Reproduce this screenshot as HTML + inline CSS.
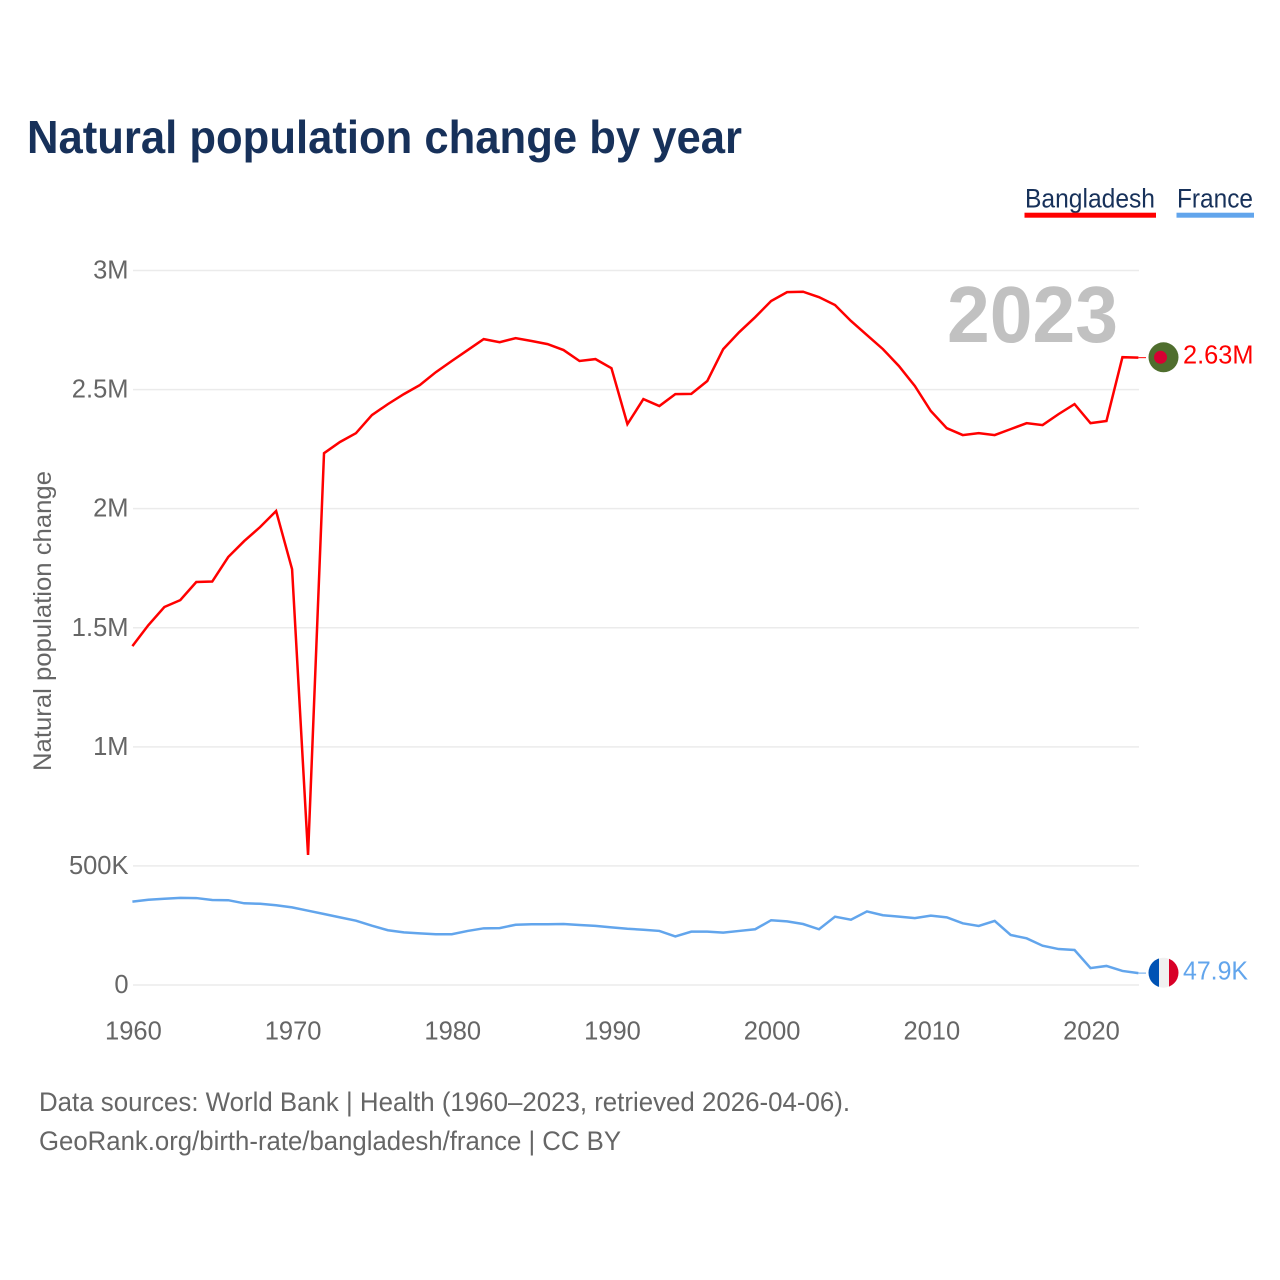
<!DOCTYPE html>
<html lang="en">
<head>
<meta charset="utf-8">
<title>Natural population change by year</title>
<style>
html,body{margin:0;padding:0;background:#fff;}
svg{display:block;font-family:"Liberation Sans",sans-serif;}
</style>
</head>
<body>
<svg id="chart" xmlns="http://www.w3.org/2000/svg" width="1280" height="1280" viewBox="0 0 1280 1280">
  <defs>
    <clipPath id="bd-clip"><circle cx="1163.5" cy="357.3" r="15"/></clipPath>
    <clipPath id="fr-clip"><circle cx="1163.5" cy="972.7" r="15"/></clipPath>
  </defs>
  <rect width="1280" height="1280" fill="#fff"/>
  <text x="27" y="153" font-size="46" font-weight="700" fill="#17315a" textLength="715" lengthAdjust="spacingAndGlyphs">Natural population change by year</text>

  <g>
    <g>
      <text x="1025" y="207.5" font-size="26.5" fill="#17315a" textLength="130" lengthAdjust="spacingAndGlyphs">Bangladesh</text>
      <rect x="1024.5" y="212.7" width="131.5" height="5" fill="#ff0000"/>
    </g>
    <g>
      <text x="1177" y="207.5" font-size="26.5" fill="#17315a" textLength="76" lengthAdjust="spacingAndGlyphs">France</text>
      <rect x="1176.5" y="212.7" width="77.5" height="5" fill="#62a5ec"/>
    </g>
  </g>

  <g id="grid"></g>
  <g id="y-axis"></g>
  <g id="x-axis"></g>

  <text transform="translate(51,771) rotate(-90)" font-size="25" fill="#666" textLength="300" lengthAdjust="spacingAndGlyphs">Natural population change</text>

  <text x="947" y="342" font-size="80" font-weight="700" fill="#c1c1c1" textLength="171" lengthAdjust="spacingAndGlyphs">2023</text>

  <g id="series"></g>

  <g clip-path="url(#bd-clip)">
    <rect x="1148" y="342" width="31" height="31" fill="#4f6e2e"/>
    <circle cx="1160.5" cy="357.3" r="6.5" fill="#d80032"/>
  </g>
  <text x="1183" y="363.5" font-size="25.5" fill="#ff0000" textLength="70.5" lengthAdjust="spacingAndGlyphs">2.63M</text>

  <g clip-path="url(#fr-clip)">
    <rect x="1148" y="957" width="11" height="31" fill="#0052b4"/>
    <rect x="1159" y="957" width="10" height="31" fill="#f0f0f0"/>
    <rect x="1169" y="957" width="11" height="31" fill="#d80027"/>
  </g>
  <text x="1183" y="979.5" font-size="25.5" fill="#62a5ec" textLength="65" lengthAdjust="spacingAndGlyphs">47.9K</text>

  <text x="39" y="1111" font-size="26.5" fill="#666" textLength="811" lengthAdjust="spacingAndGlyphs">Data sources: World Bank | Health (1960–2023, retrieved 2026-04-06).</text>
  <text x="39" y="1150" font-size="26.5" fill="#666" textLength="582" lengthAdjust="spacingAndGlyphs">GeoRank.org/birth-rate/bangladesh/france | CC BY</text>
</svg>
<script>
const years = [1960,1961,1962,1963,1964,1965,1966,1967,1968,1969,1970,1971,1972,1973,1974,1975,1976,1977,1978,1979,1980,1981,1982,1983,1984,1985,1986,1987,1988,1989,1990,1991,1992,1993,1994,1995,1996,1997,1998,1999,2000,2001,2002,2003,2004,2005,2006,2007,2008,2009,2010,2011,2012,2013,2014,2015,2016,2017,2018,2019,2020,2021,2022,2023];
const bangladesh = [1423000,1511000,1587000,1616000,1692000,1694000,1797000,1864000,1923000,1990000,1746000,546000,2233000,2280000,2317000,2393000,2439000,2481000,2519000,2573000,2620000,2666000,2712000,2699000,2716000,2704000,2691000,2666000,2620000,2628000,2590000,2355000,2460000,2431000,2481000,2482000,2536000,2670000,2741000,2804000,2872000,2909000,2911000,2888000,2855000,2788000,2729000,2670000,2599000,2515000,2410000,2338000,2309000,2317000,2309000,2334000,2359000,2351000,2397000,2439000,2359000,2368000,2636000,2634000];
const france = [350000,358000,362000,366000,365000,357000,356000,343000,341000,335000,326000,312000,298000,284000,270000,249000,230000,221000,217000,213000,213000,227000,238000,239000,253000,255000,255000,256000,252000,248000,242000,236000,232000,227000,204000,224000,224000,220000,227000,234000,272000,267000,256000,234000,287000,274000,309000,293000,287000,281000,291000,284000,259000,248000,269000,210000,196000,165000,151000,147000,71000,80000,59000,50000];
const yTicks = [0,500000,1000000,1500000,2000000,2500000,3000000];
const yTickLabels = ['0','500K','1M','1.5M','2M','2.5M','3M'];
const xTicks = [1960,1970,1980,1990,2000,2010,2020];

const NS = 'http://www.w3.org/2000/svg';
const xLeft = 132.4, xRight = 1138.4, yBase = 985, yTop = 270.5;
function xScale(year) { return xLeft + (year - years[0]) * (xRight - xLeft) / (years[years.length - 1] - years[0]); }
function yScale(v) { return yBase - v * (yBase - yTop) / 3000000; }

const grid = document.getElementById('grid');
const yAxis = document.getElementById('y-axis');
const xAxis = document.getElementById('x-axis');
const series = document.getElementById('series');

yTicks.forEach(function (t, i) {
  const line = document.createElementNS(NS, 'line');
  
  
  line.setAttribute('x1', xLeft + 0.6);
  line.setAttribute('x2', xRight + 0.6);
  line.setAttribute('y1', yScale(t));
  line.setAttribute('y2', yScale(t));
  line.setAttribute('stroke', '#ebebeb');
  line.setAttribute('stroke-width', '1.5');
  grid.appendChild(line);

  const label = document.createElementNS(NS, 'text');
  
  
  label.setAttribute('x', 128.5);
  label.setAttribute('y', yScale(t) + 8);
  label.setAttribute('text-anchor', 'end');
  label.setAttribute('font-size', '25.5');
  label.setAttribute('fill', '#666');
  label.textContent = yTickLabels[i];
  yAxis.appendChild(label);
});

xTicks.forEach(function (t) {
  const label = document.createElementNS(NS, 'text');
  
  
  label.setAttribute('x', xScale(t) + 1);
  label.setAttribute('y', 1039.5);
  label.setAttribute('text-anchor', 'middle');
  label.setAttribute('font-size', '25.5');
  label.setAttribute('fill', '#666');
  label.textContent = String(t);
  xAxis.appendChild(label);
});

function pathFor(values) {
  return values.map(function (v, i) {
    return (i ? 'L' : 'M') + xScale(years[i]).toFixed(2) + ' ' + yScale(v).toFixed(2);
  }).join(' ');
}

const bdLine = document.createElementNS(NS, 'path');


bdLine.setAttribute('d', pathFor(bangladesh));
bdLine.setAttribute('fill', 'none');
bdLine.setAttribute('stroke', '#ff0000');
bdLine.setAttribute('stroke-width', '2.5');
bdLine.setAttribute('stroke-linejoin', 'miter');
series.appendChild(bdLine);

const frLine = document.createElementNS(NS, 'path');


frLine.setAttribute('d', pathFor(france));
frLine.setAttribute('fill', 'none');
frLine.setAttribute('stroke', '#62a5ec');
frLine.setAttribute('stroke-width', '2.5');
series.appendChild(frLine);

const bdConn = document.createElementNS(NS, 'line');


bdConn.setAttribute('x1', xRight);
bdConn.setAttribute('x2', 1146);
bdConn.setAttribute('y1', yScale(bangladesh[bangladesh.length - 1]));
bdConn.setAttribute('y2', yScale(bangladesh[bangladesh.length - 1]));
bdConn.setAttribute('stroke', '#ff0000');
bdConn.setAttribute('stroke-width', '1');
series.appendChild(bdConn);

const frConn = document.createElementNS(NS, 'line');


frConn.setAttribute('x1', xRight);
frConn.setAttribute('x2', 1146);
frConn.setAttribute('y1', yScale(france[france.length - 1]));
frConn.setAttribute('y2', yScale(france[france.length - 1]));
frConn.setAttribute('stroke', '#62a5ec');
frConn.setAttribute('stroke-width', '1');
series.appendChild(frConn);
</script>
</body>
</html>
